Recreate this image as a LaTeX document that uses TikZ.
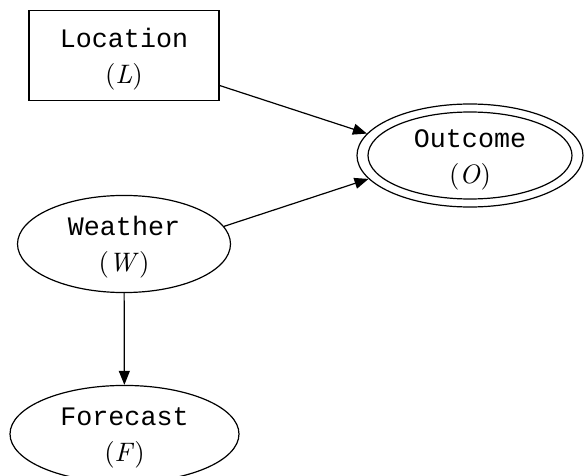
\documentclass[tikz,border=0pt]{standalone}
\usepackage{fontspec}
\setmonofont{Liberation Mono}
\newfontfamily\lmten{lmroman10-regular}[Extension=.otf, ItalicFont=lmroman10-italic]
\usetikzlibrary{arrows.meta,shapes.geometric}
\tikzset{
  lbl/.style={align=center, font=\fontsize{26.7}{36}\selectfont, inner sep=0pt},
  ell/.style={ellipse, draw, line width=1.2pt, lbl},
  arr/.style={line width=1.2pt, -{Triangle[length=14pt,width=11pt]}}
}
\newcommand{\nm}[2]{\rule{0pt}{26pt}{\ttfamily #1}\\{\lmten(\textit{#2}\/)}}
\begin{document}
\begin{tikzpicture}[x=1pt,y=-1pt]
\useasboundingbox (0,0) rectangle (584,476);
\node[draw, line width=1.2pt, lbl, minimum width=190pt, minimum height=90pt] (L) at (124,55.5) {\nm{Location}{L}};
\node[ell, minimum width=226pt, minimum height=103pt] (O) at (470,155.5) {\nm{Outcome}{O}};
\node[ellipse, draw, line width=1.2pt, minimum width=204pt, minimum height=87pt] (Oi) at (470,155.5) {};
\node[ell, minimum width=213pt, minimum height=92pt] (W) at (124,244) {\nm{Weather}{W}};
\node[ell, minimum width=229pt, minimum height=92pt] (F) at (124.5,434) {\nm{Forecast}{F}};
\draw[arr] ([yshift=-30pt]L.east) -- (O.168);
\draw[arr] (W.10) -- (O.193);
\draw[arr] (W) -- (F);
\end{tikzpicture}
\end{document}
